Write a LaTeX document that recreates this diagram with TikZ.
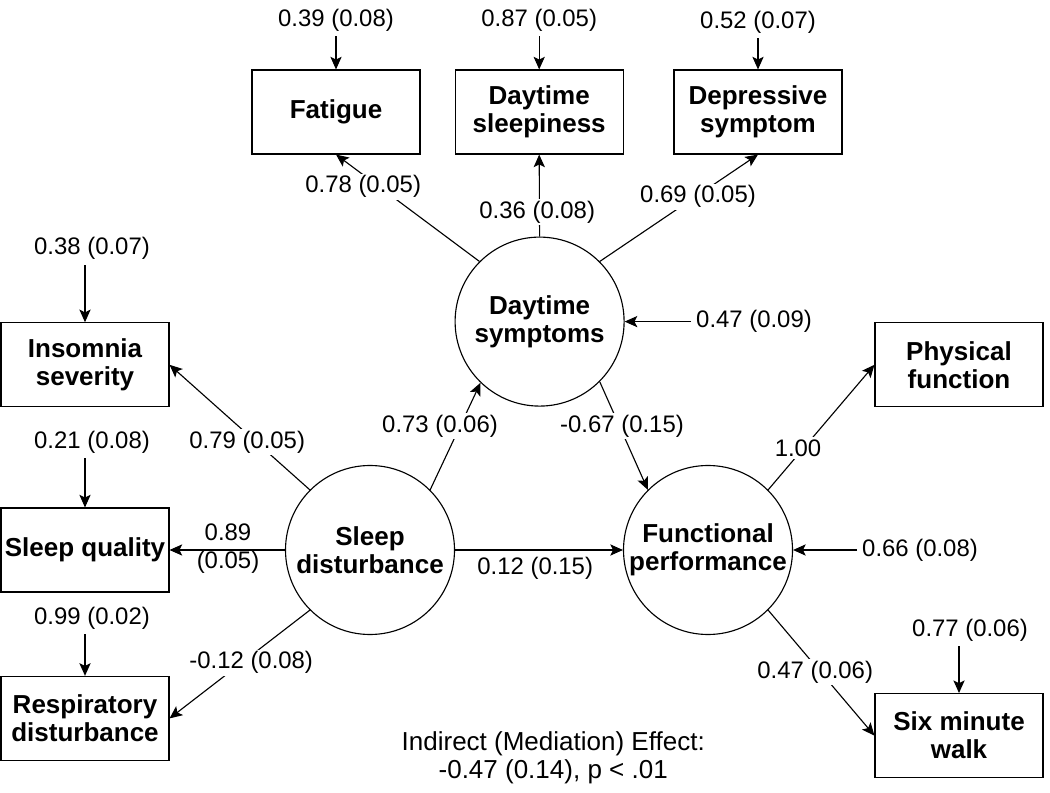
\documentclass[tikz,border=0pt]{standalone}
\usepackage{fontspec}
\setmainfont{Liberation Sans}
\usetikzlibrary{arrows.meta, positioning}

\begin{document}
\begin{tikzpicture}[
    indicator/.style={
        rectangle,
        draw=black,
        line width=0.8pt,
        minimum width=4.2cm,
        minimum height=2.1cm,
        inner sep=0pt,
        align=center,
        font=\fontsize{18.5}{20}\selectfont\bfseries
    },
    latent/.style={
        circle,
        draw=black,
        line width=0.8pt,
        minimum size=4.225cm,
        inner sep=0pt,
        align=center,
        font=\fontsize{18.5}{20}\selectfont\bfseries
    },
    resid/.style={
        inner sep=3.5pt,
        font=\fontsize{17}{19}\selectfont
    },
    loading/.style={
        fill=white,
        inner sep=1.5pt,
        align=center,
        font=\fontsize{17}{20}\selectfont
    },
    arrow/.style={
        -{Stealth[length=9pt,width=8pt,inset=2pt]},
        line width=0.8pt
    }
]
\useasboundingbox (0,0) rectangle (26.25,19.8);

% Latent factors
\node[latent] (daysym) at (13.49,11.76) {Daytime\\symptoms};
\node[latent] (sleepdist) at (9.25,6.05) {Sleep\\disturbance};
\node[latent] (funcperf) at (17.7,6.05) {Functional\\performance};

% Indicators of daytime symptoms at top
\node[indicator] (fatigue) at (8.4,17.0) {Fatigue};
\node[indicator] (sleepy) at (13.48,17.0) {Daytime\\sleepiness};
\node[indicator] (depress) at (18.95,17.0) {Depressive\\symptom};

% Indicators of sleep disturbance at left
\node[indicator] (insomnia) at (2.125,10.68) {Insomnia\\severity};
\node[indicator] (quality) at (2.125,6.05) {Sleep quality};
\node[indicator] (resp) at (2.125,1.84) {Respiratory\\disturbance};

% Indicators of functional performance at right
\node[indicator] (physical) at (23.975,10.68) {Physical\\function};
\node[indicator] (sixmin) at (23.975,1.41) {Six minute\\walk};

% Error terms
\node[resid] (efatigue) at (8.4,19.3) {0.39 (0.08)};
\node[resid] (esleepy) at (13.48,19.3) {0.87 (0.05)};
\node[resid] (edepress) at (18.95,19.25) {0.52 (0.07)};
\node[resid] (einsomnia) at (2.3,13.58) {0.38 (0.07)};
\node[resid] (equality) at (2.3,8.75) {0.21 (0.08)};
\node[resid] (eresp) at (2.3,4.35) {0.99 (0.02)};
\node[resid] (esixmin) at (24.25,4.05) {0.77 (0.06)};
\node[resid] (edaysym) at (18.85,11.76) {0.47 (0.09)};
\node[resid] (efuncperf) at (23.0,6.05) {0.66 (0.08)};

\draw[arrow] (efatigue) -- (fatigue);
\draw[arrow] (esleepy) -- (sleepy);
\draw[arrow] (edepress) -- (depress);
\draw[arrow] (einsomnia.south -| insomnia) -- (insomnia);
\draw[arrow] (equality.south -| quality) -- (quality);
\draw[arrow] (eresp.south -| resp) -- (resp);
\draw[arrow] (esixmin.south -| sixmin) -- (sixmin);
\draw[arrow] (edaysym) -- (daysym);
\draw[arrow] (efuncperf) -- (funcperf);

% Loadings and paths
\draw[arrow] (daysym.135) -- (fatigue.south);
\draw[arrow] (daysym.north) -- (sleepy.south);
\draw[arrow] (daysym.45) -- (depress.south);
\draw[arrow] (sleepdist.135) -- (insomnia.east);
\draw[arrow] (sleepdist.west) -- (quality.east);
\draw[arrow] (sleepdist.225) -- (resp.east);
\draw[arrow] (sleepdist.45) -- (daysym.226);
\draw[arrow] (sleepdist.east) -- (funcperf.west);
\draw[arrow] (daysym.315) -- (funcperf.135);
\draw[arrow] (funcperf.45) -- (physical.west);
\draw[arrow] (funcperf.315) -- (sixmin.west);

% Labels on the paths
\node[loading] (lfatigue) at (9.08,15.13) {0.78 (0.05)};
\node[loading] (lsleepy) at (13.43,14.5) {0.36 (0.08)};
\node[loading] (ldepress) at (17.45,14.88) {0.69 (0.05)};
\node[loading] (linsomnia) at (6.18,8.75) {0.79 (0.05)};
\node[loading, fill=none] (lquality) at (5.7,6.08) {0.89\\(0.05)};
\node[loading] (lresp) at (6.28,3.23) {-0.12 (0.08)};
\node[loading] (ldaysym) at (11.0,9.15) {0.73 (0.06)};
\node[loading, fill=none] (ldirect) at (13.38,5.6) {0.12 (0.15)};
\node[loading] (lfuncperf) at (15.55,9.15) {-0.67 (0.15)};
\node[loading] (lphysical) at (19.95,8.6) {1.00};
\node[loading] (lsixmin) at (20.38,3.0) {0.47 (0.06)};

% Indirect effect
\node[align=center, font=\fontsize{18.5}{20}\selectfont] (indirect) at (13.83,0.85)
    {Indirect (Mediation) Effect:\\-0.47 (0.14), p < .01};

\end{tikzpicture}
\end{document}
